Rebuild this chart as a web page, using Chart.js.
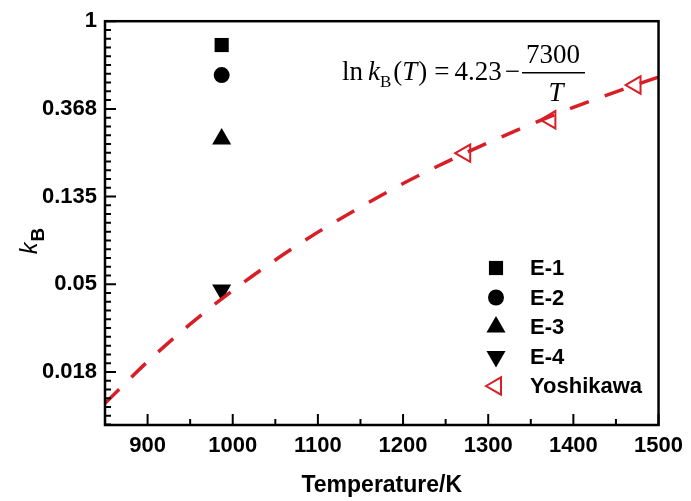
<!DOCTYPE html>
<html>
<head>
<meta charset="utf-8">
<script src="https://cdn.jsdelivr.net/npm/chart.js@4.4.1/dist/chart.umd.min.js"></script>
<style>
  html, body { margin: 0; padding: 0; background: #fff; }
  #wrap { width: 691px; height: 501px; }
</style>
</head>
<body>
<div id="wrap"><canvas id="c" width="691" height="501"></canvas></div>
<script>
// Dashed fit curve (T in K, kB)
const curveT = [850, 900, 950, 1000, 1050, 1100, 1150, 1200, 1250, 1300, 1350, 1400, 1450, 1500];
const curveK = [0.0128, 0.0206, 0.0316, 0.0464, 0.0657, 0.0902, 0.120, 0.157, 0.200, 0.250, 0.308, 0.374, 0.447, 0.529];

// Experimental points
const expT = 987;
const e1K = 0.762;
const e2K = 0.541;
const e3K = 0.261;
const e4K = 0.0466;

// Yoshikawa data
const yoshiT = [1273, 1373, 1473];
const yoshiK = [0.222, 0.325, 0.483];

// Axis ticks
const xTickVals = [900, 1000, 1100, 1200, 1300, 1400, 1500];
const yTickVals = [0.0183, 0.0498, 0.1353, 0.3679, 1];
const yTickLabels = ['0.018', '0.05', '0.135', '0.368', '1'];

const RED = '#d81e26';
const SANS = '"Liberation Sans", Arial, sans-serif';
const SERIF = '"Liberation Serif", "Times New Roman", serif';

const legendItems = [
  { label: 'E-1', ds: 1 },
  { label: 'E-2', ds: 2 },
  { label: 'E-3', ds: 3 },
  { label: 'E-4', ds: 4 },
  { label: 'Yoshikawa', ds: 5 }
];

// frame + inward ticks, like the original plot
const framePlugin = {
  id: 'frame',
  afterDatasetsDraw(chart) {
    const { ctx, chartArea: a, scales } = chart;
    const xs = scales.x, ys = scales.y;
    ctx.save();
    ctx.strokeStyle = '#000';
    ctx.lineWidth = 2;
    ctx.beginPath();
    // x ticks (major + one minor between)
    for (let v = 900; v <= 1500; v += 50) {
      const px = xs.getPixelForValue(v);
      const len = v % 100 === 0 ? 11 : 6;
      ctx.moveTo(px, a.bottom);
      ctx.lineTo(px, a.bottom - len);
    }
    // y ticks: majors at e^-n, minors every 0.1 in ln
    for (let i = 0; i >= -46; i--) {
      const py = ys.getPixelForValue(Math.exp(i / 10));
      const len = i % 10 === 0 ? 11 : 6;
      ctx.moveTo(a.left, py);
      ctx.lineTo(a.left + len, py);
    }
    ctx.stroke();
    ctx.lineWidth = 2.5;
    ctx.strokeRect(a.left, a.top, a.right - a.left, a.bottom - a.top);
    ctx.restore();
  },
  afterDraw(chart) {
    const { ctx } = chart;
    ctx.save();
    ctx.fillStyle = '#000';

    // y axis title: italic k with bold subscript B
    ctx.translate(37, 254);
    ctx.rotate(-Math.PI / 2);
    ctx.font = 'italic 23px ' + SANS;
    ctx.textBaseline = 'alphabetic';
    ctx.fillText('k', 0, 0);
    const kw = ctx.measureText('k').width;
    ctx.font = 'bold 19px ' + SANS;
    ctx.fillText('B', kw + 1, 7);
    ctx.setTransform(1, 0, 0, 1, 0, 0);

    // equation
    const base = 80;
    const R = '27px ' + SERIF, I = 'italic 27px ' + SERIF;
    let x = 342;
    const put = (txt, font, dy, gap) => {
      ctx.font = font;
      ctx.fillText(txt, x, base + (dy || 0));
      x += ctx.measureText(txt).width + (gap || 0);
    };
    put('ln', R, 0, 5);
    put('k', I, 0, 0);
    put('B', '17px ' + SERIF, 7, 2);
    put('(', R, 0, 0);
    put('T', I, 0, 1);
    put(')', R, 0, 7);
    put('=', R, 0, 5);
    put('4.23', R, 0, 3);
    put('\u2212', R, 0, 0);
    ctx.fillRect(522, 72, 63, 1.5);
    ctx.textAlign = 'center';
    ctx.font = R;
    ctx.fillText('7300', 553, 63);
    ctx.font = I;
    ctx.fillText('T', 556, 101);

    // legend
    ctx.textAlign = 'left';
    ctx.textBaseline = 'middle';
    legendItems.forEach((it, i) => {
      const ds = chart.data.datasets[it.ds];
      const y = 268 + i * 29.5;
      ctx.fillStyle = ds.backgroundColor;
      ctx.strokeStyle = ds.borderColor;
      ctx.lineWidth = ds.borderWidth;
      Chart.helpers.drawPoint(ctx, {
        pointStyle: ds.pointStyle,
        rotation: ds.rotation,
        radius: ds.pointRadius,
        borderWidth: ds.borderWidth
      }, 496, y);
      ctx.fillStyle = '#000';
      ctx.font = 'bold 22px ' + SANS;
      ctx.fillText(it.label, 530, y + 1);
    });
    ctx.restore();
  }
};

function pts(xsArr, ysArr) {
  return xsArr.map((v, i) => ({ x: v, y: ysArr[i] }));
}

function markerSet(label, data, style, radius, rotation, fill, stroke, bw) {
  return {
    type: 'scatter',
    label: label,
    data: data,
    showLine: false,
    pointStyle: style,
    pointRadius: radius,
    rotation: rotation,
    backgroundColor: fill,
    borderColor: stroke,
    borderWidth: bw,
    pointBackgroundColor: fill,
    pointBorderColor: stroke,
    pointBorderWidth: bw,
    pointRotation: rotation,
    clip: false
  };
}

new Chart(document.getElementById('c'), {
  type: 'line',
  data: {
    datasets: [
      {
        label: 'fit',
        data: pts(curveT, curveK),
        borderColor: RED,
        borderWidth: 3.5,
        borderDash: [20, 17],
        pointRadius: 0,
        cubicInterpolationMode: 'monotone',
        fill: false
      },
      markerSet('E-1', [{ x: expT, y: e1K }], 'rect', 10, 0, '#000', '#000', 0),
      markerSet('E-2', [{ x: expT, y: e2K }], 'circle', 8, 0, '#000', '#000', 0),
      markerSet('E-3', [{ x: expT, y: e3K }], 'triangle', 11, 0, '#000', '#000', 0),
      markerSet('E-4', [{ x: expT, y: e4K }], 'triangle', 11, 180, '#000', '#000', 0),
      markerSet('Yoshikawa', pts(yoshiT, yoshiK), 'triangle', 10, 270, 'rgba(255,255,255,0)', RED, 2)
    ]
  },
  options: {
    responsive: false,
    animation: false,
    events: [],
    layout: { padding: { left: 0, top: 19, right: 32, bottom: 0 } },
    plugins: { legend: { display: false }, tooltip: { enabled: false } },
    scales: {
      x: {
        type: 'linear',
        min: 850,
        max: 1500,
        afterBuildTicks: s => { s.ticks = xTickVals.map(v => ({ value: v })); },
        afterFit: s => { s.height = 76; },
        grid: { display: false, drawTicks: false },
        border: { display: false },
        ticks: {
          color: '#000',
          padding: 8,
          maxRotation: 0,
          font: { family: SANS, size: 22, weight: 'bold' },
          callback: v => String(v)
        },
        title: {
          display: true,
          text: 'Temperature/K',
          color: '#000',
          padding: { top: 0, bottom: 2 },
          font: { family: SANS, size: 23, weight: 'bold' }
        }
      },
      y: {
        type: 'logarithmic',
        min: 0.01,
        max: 1,
        afterBuildTicks: s => { s.ticks = yTickVals.map(v => ({ value: v })); },
        afterFit: s => { s.width = 105; },
        grid: { display: false, drawTicks: false },
        border: { display: false },
        ticks: {
          color: '#000',
          padding: 8,
          font: { family: SANS, size: 22, weight: 'bold' },
          callback: (v, i) => yTickLabels[i]
        }
      }
    }
  },
  plugins: [framePlugin]
});
</script>
</body>
</html>
